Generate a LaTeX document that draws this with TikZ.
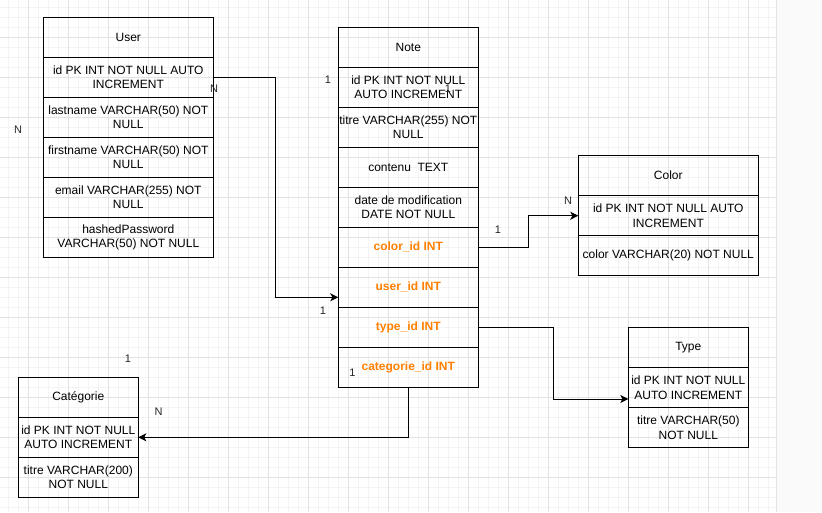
\documentclass[tikz,border=0pt]{standalone}
\usepackage{fontspec}
\setmainfont{Liberation Sans}
\usetikzlibrary{arrows.meta,positioning}
\definecolor{fk}{HTML}{FF8000}
\definecolor{gridminor}{HTML}{F3F3F3}
\definecolor{gridmajor}{HTML}{E2E2E2}
\definecolor{pageside}{HTML}{FAFAFA}
\tikzset{
  field/.style={draw,line width=1pt,minimum height=40pt,inner xsep=0pt,inner ysep=2pt,
    outer sep=0pt,align=center,font=\fontsize{12}{14.4}\selectfont},
  fkfield/.style={field,text=fk,font=\fontsize{12}{14.4}\selectfont\bfseries},
  card/.style={font=\fontsize{11}{13}\selectfont,text=black!85},
  link/.style={line width=1pt,-{Stealth[length=8pt,width=8pt,inset=2pt]}}
}

\begin{document}
\begin{tikzpicture}[x=1pt,y=-1pt]
  \useasboundingbox (0,0) rectangle (822,512);
  % background grid
  \foreach \x in {8,18,...,768} \draw[gridminor,line width=1pt] (\x,0) -- (\x,512);
  \foreach \y in {7,17,...,507} \draw[gridminor,line width=1pt] (0,\y) -- (776,\y);
  \foreach \x in {28,68,...,748} \draw[gridmajor,line width=1pt] (\x,0) -- (\x,512);
  \foreach \y in {37,77,...,477} \draw[gridmajor,line width=1pt] (0,\y) -- (776,\y);
  \fill[pageside] (776,0) rectangle (822,512);
  \draw[black!10,line width=1.5pt] (776.5,0) -- (776.5,512);

  % User
  \node[field,minimum width=170pt] (user) at (128.3,37.3) {User};
  \node[field,minimum width=170pt,below=0pt of user] (user-id) {id PK INT NOT NULL AUTO\\INCREMENT};
  \node[field,minimum width=170pt,below=0pt of user-id] (user-lastname) {lastname VARCHAR(50) NOT\\NULL};
  \node[field,minimum width=170pt,below=0pt of user-lastname] (user-firstname) {firstname VARCHAR(50) NOT\\NULL};
  \node[field,minimum width=170pt,below=0pt of user-firstname] (user-email) {email VARCHAR(255) NOT\\NULL};
  \node[field,minimum width=170pt,below=0pt of user-email] (user-password) {hashedPassword\\VARCHAR(50) NOT NULL};

  % Note
  \node[field,minimum width=140pt] (note) at (408.3,47.3) {Note};
  \node[field,minimum width=140pt,below=0pt of note] (note-id) {id PK INT NOT NULL\\AUTO INCREMENT};
  \node[field,minimum width=140pt,below=0pt of note-id] (note-titre) {titre VARCHAR(255) NOT\\NULL};
  \node[field,minimum width=140pt,below=0pt of note-titre] (note-contenu) {contenu\ \ TEXT};
  \node[field,minimum width=140pt,below=0pt of note-contenu] (note-date) {date de modification\\DATE NOT NULL};
  \node[fkfield,minimum width=140pt,below=0pt of note-date] (note-colorid) {color\_id INT};
  \node[fkfield,minimum width=140pt,below=0pt of note-colorid] (note-userid) {user\_id INT};
  \node[fkfield,minimum width=140pt,below=0pt of note-userid] (note-typeid) {type\_id INT};
  \node[fkfield,minimum width=140pt,below=0pt of note-typeid] (note-catid) {categorie\_id INT};

  % Color
  \node[field,minimum width=180pt] (color) at (668.3,175.7) {Color};
  \node[field,minimum width=180pt,below=0pt of color] (color-id) {id PK INT NOT NULL AUTO\\INCREMENT};
  \node[field,minimum width=180pt,below=0pt of color-id] (color-name) {color VARCHAR(20) NOT NULL};

  % Type
  \node[field,minimum width=120pt] (type) at (688.3,347.7) {Type};
  \node[field,minimum width=120pt,below=0pt of type] (type-id) {id PK INT NOT NULL\\AUTO INCREMENT};
  \node[field,minimum width=120pt,below=0pt of type-id] (type-titre) {titre VARCHAR(50)\\NOT NULL};

  % Categorie
  \node[field,minimum width=120pt] (cat) at (78.3,397.3) {Catégorie};
  \node[field,minimum width=120pt,below=0pt of cat] (cat-id) {id PK INT NOT NULL\\AUTO INCREMENT};
  \node[field,minimum width=120pt,below=0pt of cat-id] (cat-titre) {titre VARCHAR(200)\\NOT NULL};

  % relations
  \coordinate (userid-in) at ([yshift=-10pt]note-userid.west);
  \coordinate (typeid-in) at ([yshift=-11.3pt]type-id.west);
  \draw[link] (user-id.east) -- ++(62.5,0) |- (userid-in);
  \draw[link] (note-colorid.east) -- ++(50,0) |- (color-id.west);
  \draw[link] (note-typeid.east) -- ++(75,0) |- (typeid-in);
  \draw[link] (note-catid.south) |- (cat-id.east);

  % cardinalities
  \node[card] (card-user-n) at (214,89) {N};
  \node[card] (card-left-n) at (18,130) {N};
  \node[card] (card-note-1) at (328,80) {1};
  \node[card] (card-noteid-1) at (448,89) {1};
  \node[card] (card-userid-1) at (323,311) {1};
  \node[card] (card-catid-1) at (352.5,372.5) {1};
  \node[card] (card-cat-1) at (128,359) {1};
  \node[card] (card-cat-n) at (158.5,412) {N};
  \node[card] (card-colorid-1) at (498,230) {1};
  \node[card] (card-color-n) at (568,200.5) {N};
\end{tikzpicture}
\end{document}
